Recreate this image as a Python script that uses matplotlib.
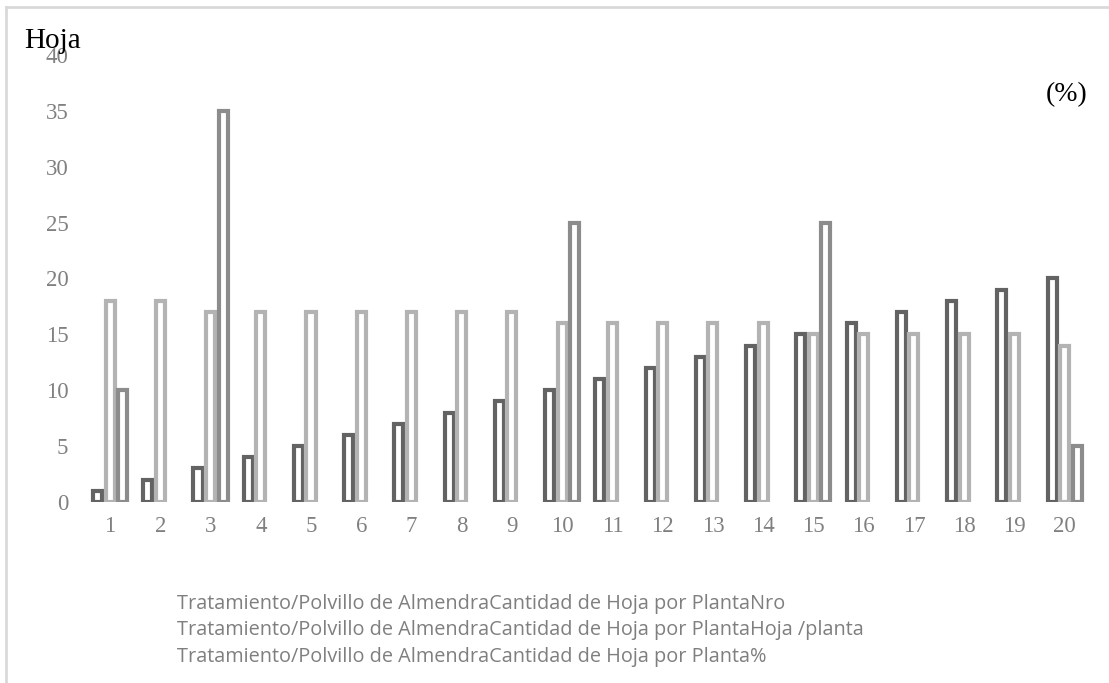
import numpy as np
import matplotlib.pyplot as plt

# leaf counts per plant, almond dust treatment
plantas = list(range(1, 21))
nro = [1, 2, 3, 4, 5, 6, 7, 8, 9, 10, 11, 12, 13, 14, 15, 16, 17, 18, 19, 20]
hoja_planta = [18, 18, 17, 17, 17, 17, 17, 17, 17, 16, 16, 16, 16, 16, 15, 15, 15, 15, 15, 14]
porcentaje = [10, 0, 35, 0, 0, 0, 0, 0, 0, 25, 0, 0, 0, 0, 25, 0, 0, 0, 0, 5]

nombres = [
    "Tratamiento/Polvillo de AlmendraCantidad de Hoja por PlantaNro",
    "Tratamiento/Polvillo de AlmendraCantidad de Hoja por PlantaHoja /planta",
    "Tratamiento/Polvillo de AlmendraCantidad de Hoja por Planta%",
]
colores = ["#636363", "#b3b3b3", "#8c8c8c"]

fig = plt.figure(figsize=(11.09, 6.83), dpi=100)
ax = fig.add_axes([0.0766, 0.265, 0.906, 0.6545])

x = np.array(plantas)
ancho = 0.18
sep = 0.25
for k, serie in enumerate([nro, hoja_planta, porcentaje]):
    v = np.array(serie, dtype=float)
    m = v > 0
    ax.bar(x[m] + (k - 1) * sep, v[m], width=ancho, facecolor="white",
           edgecolor=colores[k], linewidth=3.0)

ax.set_xlim(0.5, 20.5)
ax.set_ylim(0, 40)
ax.set_yticks(range(0, 41, 5))
ax.set_xticks(x)
for s in ax.spines.values():
    s.set_visible(False)
ax.tick_params(length=0, colors="#808080", labelsize=16.5)
ax.tick_params(axis="y", pad=12)
ax.tick_params(axis="x", pad=10)
for t in ax.get_xticklabels() + ax.get_yticklabels():
    t.set_family("Liberation Serif")

fig.text(0.022, 0.94, "Hoja", fontsize=21, family="Liberation Serif",
         color="black", va="center")
fig.text(0.943, 0.861, "(%)", fontsize=20, family="Liberation Serif",
         color="black", va="center")

for i, nombre in enumerate(nombres):
    fig.text(0.16, 0.116 - i * 0.039, nombre, fontsize=14.3,
             family="Open Sans", color="#7f7f7f", va="center")

# outer frame (left and top only)
fig.add_artist(plt.Line2D([0.005, 0.005], [0, 0.99], transform=fig.transFigure,
                          color="#d9d9d9", linewidth=2))
fig.add_artist(plt.Line2D([0.005, 1.0], [0.99, 0.99], transform=fig.transFigure,
                          color="#d9d9d9", linewidth=2))

fig.savefig("out.png", dpi=100)
